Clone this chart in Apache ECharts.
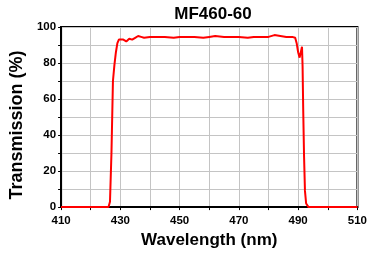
<!DOCTYPE html>
<html>
<head>
    <meta charset="utf-8">
    <title>MF460-60</title>
    <script src="https://cdn.jsdelivr.net/npm/echarts@6/dist/echarts.min.js"></script>
    <style>
        html, body { margin: 0; padding: 0; background: #fff; }
        #echarts { width: 370px; height: 254px; }
    </style>
</head>
<body>
<div id="echarts"></div>
<script>
    // 波长 (nm) 与透过率 (%)
    var wavelength = [410, 426, 426.5, 427, 427.5, 428, 428.5, 429, 429.5, 430, 431, 432, 433, 434, 435, 436, 437, 438,
        440, 442, 445, 448, 450, 452, 455, 458, 460, 462, 465, 468, 470, 473, 475, 478, 480, 482, 484, 486, 488,
        489, 489.5, 490, 490.5, 491, 491.3, 491.5, 491.7, 492, 492.3, 492.7, 493.5, 510];
    var transmission = [0, 0, 3, 30, 70, 79, 86, 91, 93, 92.5, 93, 92, 93.5, 93, 94, 95, 94.5, 94,
        94.5, 94.5, 94.5, 94, 94.5, 94.5, 94.5, 94, 94.5, 95, 94.5, 94.5, 94.5, 94, 94.5, 94.5, 94.5, 95.5, 95, 94.5, 94.5,
        94, 91, 86, 83, 82, 89, 78, 55, 28, 9, 2, 0, 0];
    var xTicks = [410, 430, 450, 470, 490, 510];
    var yTicks = [0, 20, 40, 60, 80, 100];

    var seriesData = [];
    for (var i = 0; i < wavelength.length; i++) {
        seriesData.push([wavelength[i], transmission[i]]);
    }

    var font = '"Liberation Sans", Arial, sans-serif';
    var myChart = echarts.init(document.getElementById('echarts'));
    var option = {
        animation: false,
        title: {
            text: 'MF460-60',
            left: 208,
            top: 1,
            textAlign: 'center',
            textStyle: { fontFamily: font, fontWeight: 'bold', fontSize: 17, color: '#000' }
        },
        grid: {
            left: 57, right: 11, top: 27, bottom: 40,
            show: true, borderColor: '#000', borderWidth: 2
        },
        xAxis: {
            type: 'value',
            min: 410, max: 510, interval: 10,
            name: 'Wavelength (nm)',
            nameLocation: 'middle',
            nameGap: 20,
            nameTextStyle: { fontFamily: font, fontWeight: 'bold', fontSize: 17, color: '#000' },
            axisLine: { lineStyle: { color: '#000', width: 2 } },
            axisTick: { show: true, length: 3, lineStyle: { color: '#000' } },
            axisLabel: {
                fontFamily: font, fontWeight: 'bold', fontSize: 11.5, color: '#000', margin: 8,
                formatter: function (v) { return xTicks.indexOf(v) >= 0 ? String(v) : ''; }
            },
            splitLine: { show: true, lineStyle: { color: '#c4c4c4', width: 1 } }
        },
        yAxis: {
            type: 'value',
            min: 0, max: 100, interval: 10,
            name: 'Transmission (%)',
            nameLocation: 'middle',
            nameGap: 35,
            nameTextStyle: { fontFamily: font, fontWeight: 'bold', fontSize: 18, color: '#000', padding: [0, 16, 0, 0] },
            axisLine: { show: true, lineStyle: { color: '#000', width: 2 } },
            axisTick: { show: true, length: 3, lineStyle: { color: '#000' } },
            axisLabel: {
                fontFamily: font, fontWeight: 'bold', fontSize: 11.5, color: '#000', margin: 5,
                formatter: function (v) { return yTicks.indexOf(v) >= 0 ? String(v) : ''; }
            },
            splitLine: { show: true, lineStyle: { color: '#c4c4c4', width: 1 } }
        },
        series: [{
            type: 'line',
            data: seriesData,
            showSymbol: false,
            lineStyle: { color: '#ff0000', width: 2 },
            itemStyle: { color: '#ff0000' }
        }]
    };
    myChart.setOption(option);
</script>
</body>
</html>
